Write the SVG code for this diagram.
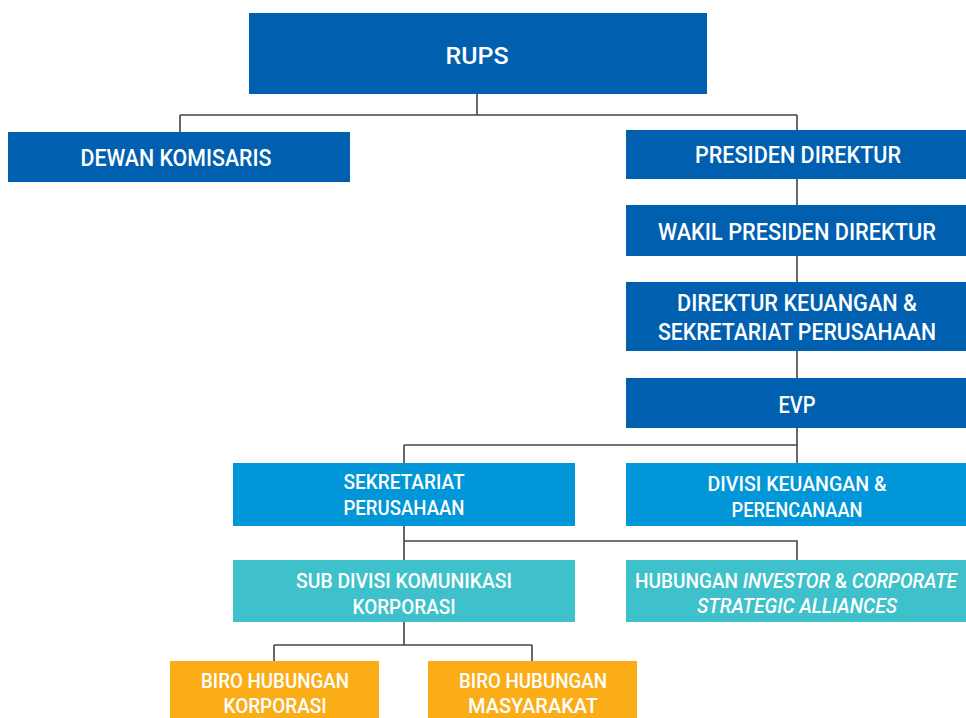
<svg xmlns="http://www.w3.org/2000/svg" width="966" height="718" viewBox="0 0 966 718">
<style>
.dk{fill:#005FAF}
.md{fill:#0096D7}
.tl{fill:#3EC1CA}
.or{fill:#FBAD18}
text{font-family:Roboto,"DejaVu Sans",sans-serif;font-weight:500;fill:#fff;text-anchor:middle}
.b{font-size:24px}
.s{font-size:21px}
.it{font-style:italic}
#connectors path{fill:none;stroke:#444;stroke-width:1.6}
</style>
<rect width="966" height="718" fill="#fff"/>
<g id="connectors">
<path d="M477 94V115M180 115H797M180 115V132M797 115V130"/>
<path d="M797 179V205M797 256V282M797 351V378M797 428V463"/>
<path d="M404 445H797M404 445V463"/>
<path d="M404 526V560M404 541H797V560"/>
<path d="M404 622V645M274 645H532M274 645V661M532 645V661"/>
</g>
<g id="rups"><rect class="dk" x="249" y="13" width="458" height="81"/><text class="b" x="477" y="64" textLength="63" lengthAdjust="spacingAndGlyphs">RUPS</text></g>
<g id="dewan-komisaris"><rect class="dk" x="8" y="132" width="342" height="50"/><text class="b" x="176" y="166" textLength="191" lengthAdjust="spacingAndGlyphs">DEWAN KOMISARIS</text></g>
<g id="presiden-direktur"><rect class="dk" x="626" y="130" width="340" height="49"/><text class="b" x="798" y="163" textLength="206" lengthAdjust="spacingAndGlyphs">PRESIDEN DIREKTUR</text></g>
<g id="wakil-presiden-direktur"><rect class="dk" x="626" y="205" width="340" height="51"/><text class="b" x="797" y="240" textLength="278" lengthAdjust="spacingAndGlyphs">WAKIL PRESIDEN DIREKTUR</text></g>
<g id="direktur-keuangan"><rect class="dk" x="626" y="282" width="340" height="69"/><text class="b" x="797" y="311" textLength="240" lengthAdjust="spacingAndGlyphs">DIREKTUR KEUANGAN &amp;</text><text class="b" x="797" y="340" textLength="278" lengthAdjust="spacingAndGlyphs">SEKRETARIAT PERUSAHAAN</text></g>
<g id="evp"><rect class="dk" x="626" y="378" width="340" height="50"/><text class="b" x="797" y="413" textLength="37" lengthAdjust="spacingAndGlyphs">EVP</text></g>
<g id="sekretariat-perusahaan"><rect class="md" x="233" y="463" width="342" height="63"/><text class="s" x="404" y="489" textLength="121" lengthAdjust="spacingAndGlyphs">SEKRETARIAT</text><text class="s" x="404" y="515" textLength="121" lengthAdjust="spacingAndGlyphs">PERUSAHAAN</text></g>
<g id="divisi-keuangan"><rect class="md" x="626" y="463" width="340" height="63"/><text class="s" x="797" y="491" textLength="179" lengthAdjust="spacingAndGlyphs">DIVISI KEUANGAN &amp;</text><text class="s" x="797" y="517" textLength="131" lengthAdjust="spacingAndGlyphs">PERENCANAAN</text></g>
<g id="sub-divisi"><rect class="tl" x="233" y="560" width="342" height="62"/><text class="s" x="404" y="588" textLength="216" lengthAdjust="spacingAndGlyphs">SUB DIVISI KOMUNIKASI</text><text class="s" x="404" y="614" textLength="103" lengthAdjust="spacingAndGlyphs">KORPORASI</text></g>
<g id="hubungan-investor"><rect class="tl" x="626" y="560" width="340" height="62"/><text class="s" x="796" y="588" textLength="322" lengthAdjust="spacingAndGlyphs">HUBUNGAN <tspan class="it">INVESTOR</tspan> &amp; <tspan class="it">CORPORATE</tspan></text><text class="s it" x="797" y="613" textLength="200" lengthAdjust="spacingAndGlyphs">STRATEGIC ALLIANCES</text></g>
<g id="biro-korporasi"><rect class="or" x="170" y="661" width="209" height="57"/><text class="s" x="275" y="688" textLength="148" lengthAdjust="spacingAndGlyphs">BIRO HUBUNGAN</text><text class="s" x="275" y="713" textLength="103" lengthAdjust="spacingAndGlyphs">KORPORASI</text></g>
<g id="biro-masyarakat"><rect class="or" x="428" y="661" width="209" height="57"/><text class="s" x="533" y="688" textLength="148" lengthAdjust="spacingAndGlyphs">BIRO HUBUNGAN</text><text class="s" x="533" y="713" textLength="130" lengthAdjust="spacingAndGlyphs">MASYARAKAT</text></g>
</svg>
